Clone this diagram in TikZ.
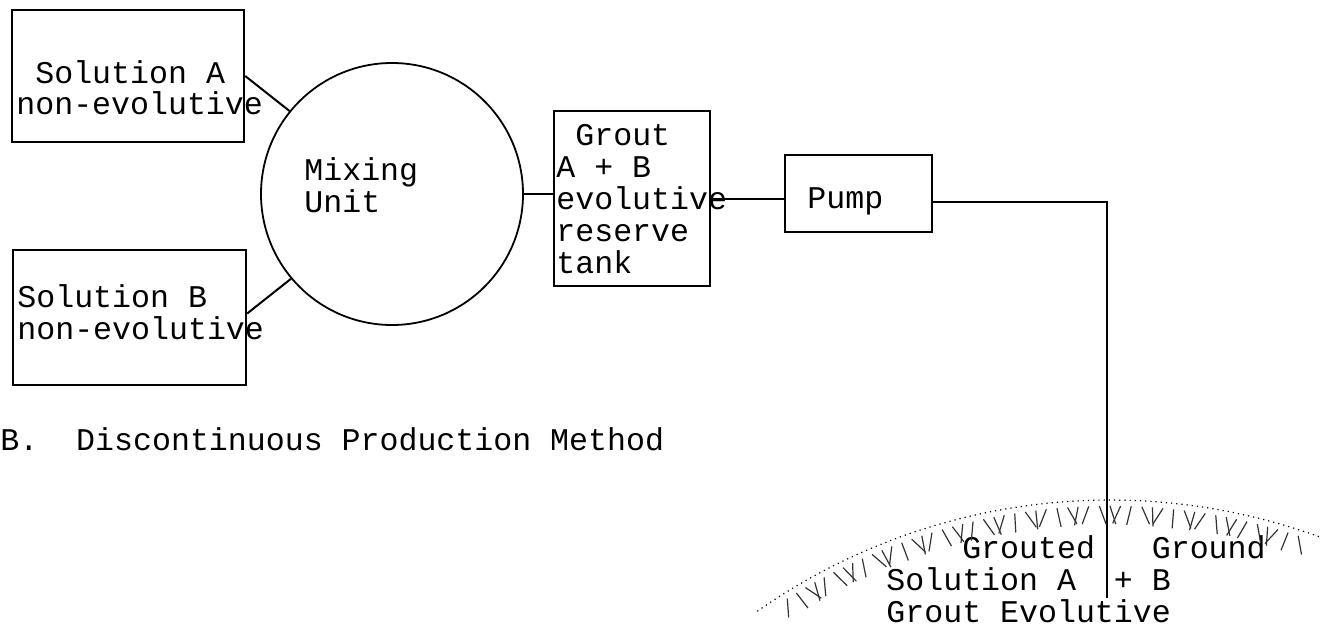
\documentclass[tikz,border=0pt]{standalone}
\usepackage{fontspec}
\newfontfamily\typewriter{Liberation Mono}
\usetikzlibrary{positioning}

\begin{document}
\begin{tikzpicture}[
      x=0.5pt, y=-0.5pt,
      box/.style={draw, line width=1.2pt, inner sep=0pt},
      pipe/.style={line width=1pt},
      lbl/.style={anchor=base west, inner sep=0pt, align=left,
                  font=\typewriter\fontsize{15.8}{16}\selectfont},
      hatch/.style={line width=0.6pt, black!80}
    ]
      \useasboundingbox (0,0) rectangle (1338,631);

      % vessels
      \node[box, minimum width=116pt, minimum height=66pt] (solA) at (128,76) {};
      \node[box, minimum width=116.5pt, minimum height=67.5pt] (solB) at (129.5,317.5) {};
      \node[box, circle, line width=0.9pt, minimum size=131pt] (mix) at (392,194) {};
      \node[box, minimum width=78pt, minimum height=87.5pt] (tank) at (632,198.5) {};
      \node[box, minimum width=73.5pt, minimum height=38.5pt] (pump) at (858.5,193.5) {};
      \coordinate (inj) at (1107,598);

      % texts (anchored at the baseline of the last line)
      \node[lbl] (solAtxt) at (16,115) {~Solution A\\non-evolutive};
      \node[lbl] (solBtxt) at (17,339) {Solution B\\non-evolutive};
      \node[lbl] (mixtxt) at (304,212) {Mixing\\Unit};
      \node[lbl] (tanktxt) at (556,273) {~Grout\\A + B\\evolutive\\reserve\\tank};
      \node[lbl] (pumptxt) at (807,208) {Pump};
      \node[lbl] (caption) at (0,450) {B.~~Discontinuous Production Method};
      \node[lbl] (groundtxt) at (886,622) {~~~~Grouted~~~Ground\\Solution A~~+ B\\Grout Evolutive};

      % pipes
      \draw[pipe] (solA.east) -- (mix.141);
      \draw[pipe] ([yshift=2pt]solB.east) -- (mix.220);
      \draw[pipe] (mix.east) -- (mix.east -| tank.west);
      \draw[pipe] (tank.east) -- (tank.east -| pump.west);
      \draw[pipe] ([yshift=-4pt]pump.east) -| (inj);

      % ground surface
      \draw[dotted, line width=0.6pt] plot[domain=-125:-70, samples=40]
        ({1110+615*cos(\x)}, {1115+615*sin(\x)});
      \begin{scope}[shift={(1110,1115)}]
        \foreach \a [count=\k] in {-122,-121,...,-72}{
          \pgfmathsetmacro{\tilt}{28*sin(\k*97)}
          \draw[hatch] (\a:609) -- ++(\a+180+\tilt:19);
        }
      \end{scope}
    \end{tikzpicture}
\end{document}
